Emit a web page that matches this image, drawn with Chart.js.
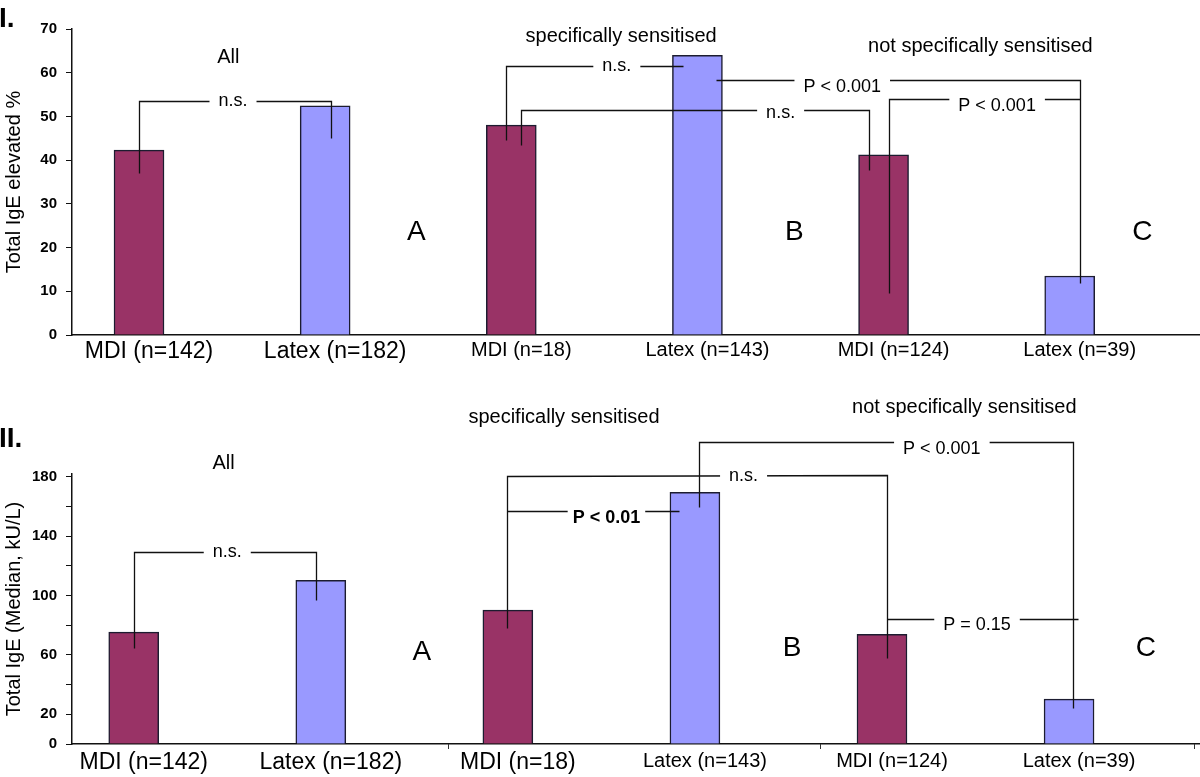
<!DOCTYPE html>
<html>
<head>
<meta charset="utf-8">
<script src="https://cdn.jsdelivr.net/npm/chart.js@4.4.0/dist/chart.umd.min.js"></script>
<style>
  html, body { margin: 0; padding: 0; background: #fff; }
  #wrap { position: relative; width: 1200px; height: 777px; overflow: hidden; }
  canvas { position: absolute; left: 0; }
  #chartI { top: 0; }
  #chartII { top: 375px; }
</style>
</head>
<body>
<div id="wrap">
  <canvas id="chartI" width="1200" height="375"></canvas>
  <canvas id="chartII" width="1200" height="402"></canvas>
</div>
<script>
const FONT = '"Liberation Sans", Arial, Helvetica, sans-serif';
const MDI_COLOR = '#993366';
const LATEX_COLOR = '#9999ff';

// panel I: % with elevated total IgE
const categoriesI = ['MDI (n=142)', 'Latex (n=182)', 'MDI (n=18)', 'Latex (n=143)', 'MDI (n=124)', 'Latex (n=39)'];
const elevatedPercent = [42.3, 52.4, 48, 64, 41.2, 13.5];

// panel II: median total IgE, kU/L
const categoriesII = ['MDI (n=142)', 'Latex (n=182)', 'MDI (n=18)', 'Latex (n=143)', 'MDI (n=124)', 'Latex (n=39)'];
const medianIgE = [75.4, 110.4, 90.2, 169.7, 74, 30.3];
const labelledTicksII = [0, 20, 60, 100, 140, 180];

const groupTitles = ['All', 'specifically sensitised', 'not specifically sensitised'];
const groupLetters = ['A', 'B', 'C'];

// brackets: polylines in (category index, value) units, labels sit in the gaps
const bracketsI = {
  paths: [
    [[0, 37.1], [0, 53.5], [1.03, 53.5], [1.03, 45.1]],
    [[1.973, 44.6], [1.973, 61.5], [2.92, 61.5]],
    [[2.053, 43.5], [2.053, 51.5], [3.92, 51.5], [3.92, 37.7]],
    [[3.10, 58.3], [5.053, 58.3], [5.053, 11.9]],
    [[4.027, 9.6], [4.027, 54.0], [5.053, 54.0]],
  ],
  labels: [
    { text: 'n.s.', x: 0.505, y: 53.5, dy: 4 },
    { text: 'n.s.', x: 2.567, y: 61.5, dy: 4 },
    { text: 'n.s.', x: 3.447, y: 51.5, dy: 7 },
    { text: 'P < 0.001', x: 3.778, y: 58.3, dy: 11 },
    { text: 'P < 0.001', x: 4.61, y: 54.0, dy: 11 },
  ],
  texts: [
    { text: groupTitles[0], x: 0.48, y: 63.5, size: 20 },
    { text: groupTitles[1], x: 2.59, y: 68.2, size: 20 },
    { text: groupTitles[2], x: 4.52, y: 66.1, size: 20 },
    { text: groupLetters[0], x: 1.49, y: 23.6, size: 28 },
    { text: groupLetters[1], x: 3.52, y: 23.6, size: 28 },
    { text: groupLetters[2], x: 5.39, y: 23.6, size: 28 },
  ],
  marks: [],
  corner: { text: 'I.', y: 27 },
};

const bracketsII = {
  paths: [
    [[0, 64.7], [0, 129.4], [0.973, 129.4], [0.973, 97]],
    [[1.995, 78.2], [1.995, 180.5], [4.027, 181.5], [4.027, 58]],
    [[1.995, 157], [2.914, 157]],
    [[3.02, 159.7], [3.02, 203.5], [5.02, 203.5], [5.02, 24.3]],
    [[4.027, 84.2], [5.048, 84.2]],
  ],
  labels: [
    { text: 'n.s.', x: 0.5, y: 129.4, dy: 4 },
    { text: 'n.s.', x: 3.26, y: 181, dy: 5 },
    { text: 'P < 0.01', x: 2.527, y: 157, dy: 11, bold: true, pad: 5 },
    { text: 'P < 0.001', x: 4.32, y: 203.5, dy: 11 },
    { text: 'P = 0.15', x: 4.508, y: 84.2, dy: 10 },
  ],
  texts: [
    { text: groupTitles[0], x: 0.48, y: 189.4, size: 20 },
    { text: groupTitles[1], x: 2.30, y: 220.4, size: 20 },
    { text: groupTitles[2], x: 4.44, y: 227, size: 20 },
    { text: groupLetters[0], x: 1.54, y: 62, size: 28 },
    { text: groupLetters[1], x: 3.52, y: 64.7, size: 28 },
    { text: groupLetters[2], x: 5.41, y: 64.7, size: 28 },
  ],
  marks: [1.68, 3.67, 5.67],
  corner: { text: 'II.', y: 72 },
};

const bracketPlugin = {
  id: 'brackets',
  afterDraw(chart, args, opts) {
    const { ctx } = chart;
    const xs = chart.scales.x, ys = chart.scales.y;
    const px = v => xs.getPixelForValue(v);
    const py = v => ys.getPixelForValue(v);
    ctx.save();
    ctx.strokeStyle = '#111';
    ctx.lineWidth = 1.3;
    opts.paths.forEach(path => {
      ctx.beginPath();
      path.forEach(([a, b], i) => {
        const X = Math.round(px(a)) + 0.5, Y = Math.round(py(b)) + 0.5;
        if (i) ctx.lineTo(X, Y); else ctx.moveTo(X, Y);
      });
      ctx.stroke();
    });

    ctx.textAlign = 'center';
    opts.labels.forEach(l => {
      ctx.font = (l.bold ? 'bold ' : '') + '18px ' + FONT;
      const w = ctx.measureText(l.text).width;
      const pad = l.pad == null ? 9 : l.pad;
      const cx = px(l.x), ly = Math.round(py(l.y)) + 0.5;
      ctx.fillStyle = '#fff';
      ctx.fillRect(cx - w / 2 - pad, ly - 3, w + pad * 2, 6);
      ctx.fillStyle = '#000';
      ctx.textBaseline = 'alphabetic';
      ctx.fillText(l.text, cx, ly + l.dy);
    });

    opts.texts.forEach(t => {
      ctx.font = t.size + 'px ' + FONT;
      ctx.fillStyle = '#000';
      ctx.textBaseline = 'middle';
      ctx.fillText(t.text, px(t.x), py(t.y));
    });

    ctx.strokeStyle = '#333';
    ctx.lineWidth = 1;
    opts.marks.forEach(m => {
      const X = Math.round(px(m)) + 0.5;
      ctx.beginPath();
      ctx.moveTo(X, ys.bottom);
      ctx.lineTo(X, ys.bottom + 5);
      ctx.stroke();
    });

    ctx.font = 'bold 28px ' + FONT;
    ctx.textAlign = 'left';
    ctx.textBaseline = 'alphabetic';
    ctx.fillStyle = '#000';
    ctx.fillText(opts.corner.text, -1, opts.corner.y);
    ctx.restore();
  }
};

function makeChart(id, cfg) {
  const ctx = document.getElementById(id).getContext('2d');
  return new Chart(ctx, {
    type: 'bar',
    data: {
      datasets: [{
        data: cfg.values.map((v, i) => ({ x: i, y: v })),
        backgroundColor: cfg.categories.map(c => c.startsWith('MDI') ? MDI_COLOR : LATEX_COLOR),
        borderColor: '#1c1c30',
        borderWidth: 1.5,
        barThickness: 50,
      }]
    },
    plugins: [bracketPlugin],
    options: {
      responsive: false,
      animation: false,
      events: [],
      layout: { padding: { top: cfg.padTop, left: 0, right: 0, bottom: 0 } },
      scales: {
        x: {
          type: 'linear',
          offset: false,
          min: cfg.xMin,
          max: 5.7,
          grid: { display: false, drawTicks: false, offset: false },
          border: { display: true, color: '#111', width: 1.5 },
          afterFit: s => { s.height = cfg.xHeight; },
          ticks: {
            stepSize: 1,
            includeBounds: false,
            autoSkip: false,
            maxRotation: 0,
            padding: cfg.xPad,
            labelOffset: 10,
            color: '#000',
            font: c => ({ family: FONT, size: c.index < cfg.bigLabels ? 23 : 20 }),
            callback: v => cfg.categories[v],
          },
        },
        y: {
          min: 0,
          max: cfg.yMax,
          afterFit: s => { s.width = 72; },
          grid: { display: true, drawOnChartArea: false, drawTicks: true, tickLength: 6, color: '#111' },
          border: { display: true, color: '#111', width: 1.5 },
          title: {
            display: true,
            text: cfg.yTitle,
            color: '#000',
            font: { family: FONT, size: 20 },
            padding: { top: 2, bottom: 0 },
          },
          ticks: {
            stepSize: cfg.yStep,
            includeBounds: false,
            padding: 9,
            color: '#000',
            font: { family: FONT, size: 15, weight: 'bold' },
            callback: cfg.yLabel,
          },
        },
      },
      plugins: {
        legend: { display: false },
        tooltip: { enabled: false },
        brackets: cfg.brackets,
      },
    },
  });
}

document.addEventListener('DOMContentLoaded', function () {
  makeChart('chartI', {
    categories: categoriesI,
    values: elevatedPercent,
    yMax: 70,
    yStep: 10,
    yLabel: v => v,
    yTitle: 'Total IgE elevated %',
    padTop: 29,
    xHeight: 40,
    xPad: 3,
    xMin: -0.36,
    bigLabels: 2,
    brackets: bracketsI,
  });

  makeChart('chartII', {
    categories: categoriesII,
    values: medianIgE,
    yMax: 182,
    yStep: 20,
    yLabel: v => labelledTicksII.includes(v) ? v : '',
    yTitle: 'Total IgE (Median, kU/L)',
    padTop: 99,
    xHeight: 33,
    xPad: 5,
    xMin: -0.33,
    bigLabels: 3,
    brackets: bracketsII,
  });
});
</script>
</body>
</html>
